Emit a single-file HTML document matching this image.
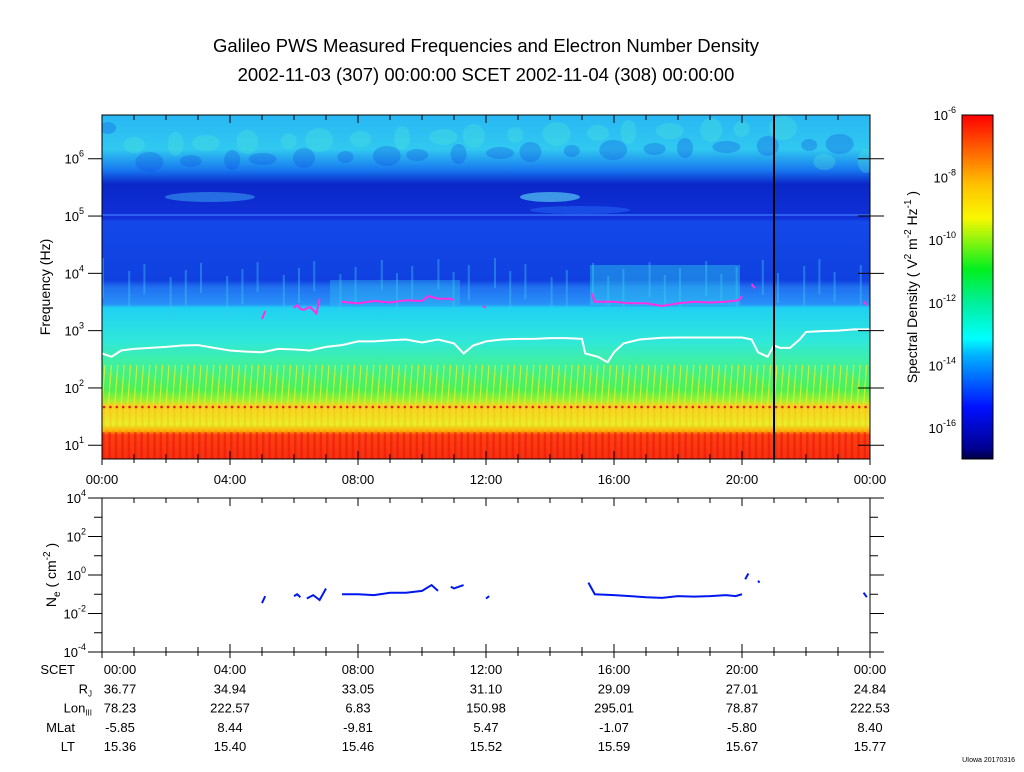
<!DOCTYPE html>
<html><head><meta charset="utf-8"><style>
body{margin:0;background:#fff;width:1024px;height:767px;overflow:hidden;font-family:"Liberation Sans",sans-serif}
svg text{font-family:"Liberation Sans",sans-serif;fill:#000}
</style></head><body>
<svg id="c" width="1024" height="767" xmlns="http://www.w3.org/2000/svg">
<defs>
<linearGradient id="sg" x1="0" y1="0" x2="0" y2="1">
<stop offset="0" stop-color="#28b8f4"/><stop offset="0.1" stop-color="#30c8f0"/>
<stop offset="0.16" stop-color="#1878f0"/><stop offset="0.2" stop-color="#0a28c8"/>
<stop offset="0.3" stop-color="#1030d8"/><stop offset="0.31" stop-color="#1448e8"/>
<stop offset="0.48" stop-color="#1040e0"/><stop offset="0.5" stop-color="#2070f0"/>
<stop offset="0.55" stop-color="#2890f8"/><stop offset="0.56" stop-color="#20d0f4"/>
<stop offset="0.66" stop-color="#30e8d8"/><stop offset="0.72" stop-color="#40f0a0"/>
<stop offset="0.8" stop-color="#50f050"/><stop offset="0.83" stop-color="#a0f030"/>
<stop offset="0.845" stop-color="#f8d020"/><stop offset="0.875" stop-color="#f0e020"/>
<stop offset="0.9" stop-color="#e8f028"/><stop offset="0.92" stop-color="#ffa000"/>
<stop offset="0.93" stop-color="#ff4010"/><stop offset="1" stop-color="#f83010"/>
</linearGradient>
<linearGradient id="cb" x1="0" y1="1" x2="0" y2="0">
<stop offset="0" stop-color="#000040"/><stop offset="0.03" stop-color="#000090"/>
<stop offset="0.15" stop-color="#0010ff"/><stop offset="0.3" stop-color="#00b0ff"/>
<stop offset="0.35" stop-color="#00ffff"/><stop offset="0.45" stop-color="#00f0a0"/>
<stop offset="0.55" stop-color="#00f020"/><stop offset="0.7" stop-color="#f8f800"/>
<stop offset="0.8" stop-color="#ffc000"/><stop offset="0.9" stop-color="#ff6000"/>
<stop offset="1" stop-color="#ff0000"/>
</linearGradient>
<clipPath id="pc"><rect x="102" y="115" width="768" height="344"/></clipPath>
<clipPath id="dc"><rect x="102" y="498" width="768" height="154"/></clipPath>
</defs>
<text x="486" y="52" font-size="18.5" text-anchor="middle">Galileo PWS Measured Frequencies and Electron Number Density</text>
<text x="486" y="81" font-size="18.5" text-anchor="middle">2002-11-03 (307) 00:00:00 SCET 2002-11-04 (308) 00:00:00</text>
<g clip-path="url(#pc)">
<rect x="102" y="115" width="768" height="344" fill="url(#sg)"/>
<g id="tex"></g>
<polyline id="wline" fill="none" stroke="#fff" stroke-width="2"/>
<g id="mag"></g>
</g>
<rect x="102" y="115" width="768" height="344" fill="none" stroke="#000" stroke-width="1"/>
<line x1="774" y1="115" x2="774" y2="459" stroke="#000" stroke-width="2"/>
<text transform="translate(50,287) rotate(-90)" font-size="14" text-anchor="middle">Frequency (Hz)</text>
<rect x="962" y="115" width="31" height="344" fill="url(#cb)" stroke="#000"/>
<text transform="translate(917,287) rotate(-90)" font-size="14" text-anchor="middle">Spectral Density ( V<tspan dy="-6" font-size="10">2</tspan><tspan dy="6"> m</tspan><tspan dy="-6" font-size="10">-2</tspan><tspan dy="6"> Hz</tspan><tspan dy="-6" font-size="10">-1</tspan><tspan dy="6"> )</tspan></text>
<g id="cbt"></g>
<g id="axes"></g>
<rect x="102" y="498" width="768" height="154" fill="none" stroke="#000"/>
<text transform="translate(56,575) rotate(-90)" font-size="14" text-anchor="middle">N<tspan dy="4" font-size="10">e</tspan><tspan dy="-4"> ( cm</tspan><tspan dy="-6" font-size="10">-2</tspan><tspan dy="6"> )</tspan></text>
<g id="dens" clip-path="url(#dc)"></g>
<g id="eph"></g>
<text x="1015" y="762" font-size="7" text-anchor="end">UIowa 20170316</text>
</svg>
<script>
const timeTickLabels=["00:00","04:00","08:00","12:00","16:00","20:00","00:00"];
const freqDecades=[1,2,3,4,5,6];
const cbDecades=[-6,-8,-10,-12,-14,-16];
const densDecades=[4,2,0,-2,-4];
const whiteT=[0,0.3,0.6,1,1.5,2,2.5,3,3.5,4,4.5,5,5.5,6,6.5,7,7.5,8,8.5,9,9.5,10,10.5,11,11.3,11.6,12,12.5,13,13.5,14,14.5,15,15.1,15.5,15.8,16,16.3,16.8,17.5,18,19,20,20.3,20.5,20.8,21,21.2,21.5,21.8,22,22.5,23,23.5,24];
const whiteF=[400,350,450,480,500,520,550,560,500,450,430,420,480,470,450,520,560,650,650,680,700,620,700,600,400,550,650,700,720,720,740,740,720,400,350,280,420,600,700,750,760,760,760,700,420,350,550,500,500,700,950,980,1000,1050,1050];
const magSegT=[[5.0,5.1],[6.0,6.1,6.2,6.3,6.5,6.7,6.8],[7.5,8,8.5,9,9.5,10,10.2,10.5,10.9,11],[11.9,12],[15.3,15.4,16,16.5,17,17.5,18,18.5,19,19.5,19.9,20],[20.3,20.4],[23.8,23.9]];
const magSegF=[[1600,2200],[2500,2800,2400,2300,2600,2000,3600],[3200,3000,3300,3100,3400,3300,4000,3600,3600,3400],[2700,2500],[4500,3200,3200,3000,3000,2700,3000,3200,3100,3200,3400,4000],[6500,5500],[3200,2800]];
const densSegT=[[5.0,5.1],[6.0,6.1,6.2],[6.4,6.6,6.8,7.0],[7.5,8,8.5,9,9.5,10,10.3,10.5],[10.9,11,11.3],[12,12.1],[15.2,15.4,16,16.5,17,17.5,18,18.5,19,19.5,19.8,20],[20.1,20.2],[20.5,20.55],[23.8,23.9]];
const densSegV=[[0.035,0.08],[0.08,0.1,0.07],[0.06,0.09,0.05,0.2],[0.1,0.1,0.09,0.12,0.12,0.15,0.3,0.15],[0.25,0.2,0.3],[0.06,0.08],[0.4,0.1,0.09,0.08,0.07,0.065,0.08,0.075,0.08,0.09,0.08,0.1],[0.6,1.2],[0.5,0.4],[0.12,0.07]];
const rowNames=["SCET","R_J","Lon_III","MLat","LT"];
const rowVals=[
["00:00","04:00","08:00","12:00","16:00","20:00","00:00"],
["36.77","34.94","33.05","31.10","29.09","27.01","24.84"],
["78.23","222.57","6.83","150.98","295.01","78.87","222.53"],
["-5.85","8.44","-9.81","5.47","-1.07","-5.80","8.40"],
["15.36","15.40","15.46","15.52","15.59","15.67","15.77"]];

const NS="http://www.w3.org/2000/svg";
const X=h=>102+h*32;
const YF=f=>459-(Math.log10(f)-0.76)*57.3;
const YD=v=>498+(4-Math.log10(v))*19.25;
function mk(tag,attrs,parent,txt){const e=document.createElementNS(NS,tag);for(const k in attrs)e.setAttribute(k,attrs[k]);if(txt!==undefined)e.textContent=txt;parent.appendChild(e);return e;}
const tex=document.getElementById('tex');
for(let i=0;i<120;i++){const x=102+i*6.4;
 const s=mk('line',{x1:x,y1:405,x2:x+3,y2:365,stroke:'#e8f030','stroke-width':1.2,opacity:0.8},tex);
 
 mk('rect',{x:x,y:432,width:2.5,height:27,fill:'#e01008',opacity:0.45},tex);
 mk('rect',{x:x+1,y:408,width:2,height:24,fill:'#f8c020',opacity:0.5},tex);
 mk('circle',{cx:x+2,cy:407,r:1.3,fill:'#e02010'},tex);
}
for(let i=0;i<40;i++){const x=102+i*19.2+((i*7)%11);
 mk('rect',{x:x,y:258+(i*13)%20,width:2,height:40-(i*5)%15,fill:'#40c8f0',opacity:0.4},tex);
 mk('ellipse',{cx:x+6,cy:128+(i*17)%35,rx:8+(i*3)%9,ry:6+(i%4)*2,fill:(i%2?'#50e8d8':'#1050e0'),opacity:0.3},tex);
}
mk('ellipse',{cx:210,cy:197,rx:45,ry:5,fill:'#40b0f8',opacity:0.5},tex);
mk('ellipse',{cx:550,cy:197,rx:30,ry:5,fill:'#60e0f8',opacity:0.6},tex);
mk('ellipse',{cx:580,cy:210,rx:50,ry:4,fill:'#2060f0',opacity:0.6},tex);
mk('rect',{x:102,y:214,width:768,height:2,fill:'#4080ff',opacity:0.6},tex);
mk('rect',{x:590,y:265,width:150,height:40,fill:'#30d8f0',opacity:0.4},tex);
mk('rect',{x:330,y:280,width:130,height:25,fill:'#30c8f0',opacity:0.35},tex);
document.getElementById('wline').setAttribute('points',whiteT.map((t,i)=>X(t)+','+YF(whiteF[i])).join(' '));
const mag=document.getElementById('mag');
magSegT.forEach((ts,j)=>{const p=mk('polyline',{points:ts.map((t,i)=>X(t)+','+YF(magSegF[j][i])).join(' '),fill:'none',stroke:'#ff30e0','stroke-width':2},mag);
 });
const dens=document.getElementById('dens');
densSegT.forEach((ts,j)=>{const p=mk('polyline',{points:ts.map((t,i)=>X(t)+','+YD(densSegV[j][i])).join(' '),fill:'none',stroke:'#0018f0','stroke-width':2},dens);
 });
const ax=document.getElementById('axes');
for(let h=0;h<=24;h++){const x=X(h),L=h%4==0?8:5;
 mk('line',{x1:x,y1:115,x2:x,y2:115+L,stroke:'#000'},ax);mk('line',{x1:x,y1:459,x2:x,y2:459-L,stroke:'#000'},ax);
 mk('line',{x1:x,y1:459,x2:x,y2:459+(h%4==0?6:4),stroke:'#000'},ax);
 mk('line',{x1:x,y1:498,x2:x,y2:498+L,stroke:'#000'},ax);mk('line',{x1:x,y1:652,x2:x,y2:652-L,stroke:'#000'},ax);
 mk('line',{x1:x,y1:652,x2:x,y2:652+(h%4==0?6:4),stroke:'#000'},ax);}
timeTickLabels.forEach((l,i)=>{const t=mk('text',{x:X(i*4),y:484,'font-size':13,'text-anchor':'middle'},ax,l);
 });
freqDecades.forEach(d=>{const y=YF(Math.pow(10,d));
 mk('line',{x1:88,y1:y,x2:102,y2:y,stroke:'#000'},ax);mk('line',{x1:858,y1:y,x2:884,y2:y,stroke:'#000'},ax);
 const t=mk('text',{x:84,y:y+5,'font-size':13,'text-anchor':'end'},ax);t.innerHTML='10<tspan dy="-7" font-size="9">'+d+'</tspan>';
 });
const cbt=document.getElementById('cbt');
cbDecades.forEach(d=>{const y=115+(-6-d)*31.3;
 const t=mk('text',{x:956,y:y+5,'font-size':13,'text-anchor':'end'},cbt);t.innerHTML='10<tspan dy="-7" font-size="9">'+d+'</tspan>';
 });
for(let d=-4;d<=4;d++){const y=YD(Math.pow(10,d)),L=d%2==0?14:8;
 mk('line',{x1:102-L,y1:y,x2:102,y2:y,stroke:'#000'},ax);mk('line',{x1:870,y1:y,x2:870+L,y2:y,stroke:'#000'},ax);}
densDecades.forEach(d=>{const y=YD(Math.pow(10,d));
 const t=mk('text',{x:86,y:y+5,'font-size':13,'text-anchor':'end'},ax);t.innerHTML='10<tspan dy="-7" font-size="9">'+d+'</tspan>';
 });
const eph=document.getElementById('eph');
const rowLabels=['SCET','R<tspan dy="3" font-size="8">J</tspan>','Lon<tspan dy="3" font-size="8">III</tspan>','MLat','LT'];
rowNames.forEach((n,r)=>{const y=674+r*19.3;
 const t=mk('text',{x:r==1||r==2?92:75,y:y,'font-size':13,'text-anchor':'end'},eph);t.innerHTML=rowLabels[r];
 
 rowVals[r].forEach((v,i)=>{const x=i==0?120:X(i*4);const tv=mk('text',{x:x,y:y,'font-size':13,'text-anchor':'middle'},eph,v);
  });});
</script>
</body></html>
